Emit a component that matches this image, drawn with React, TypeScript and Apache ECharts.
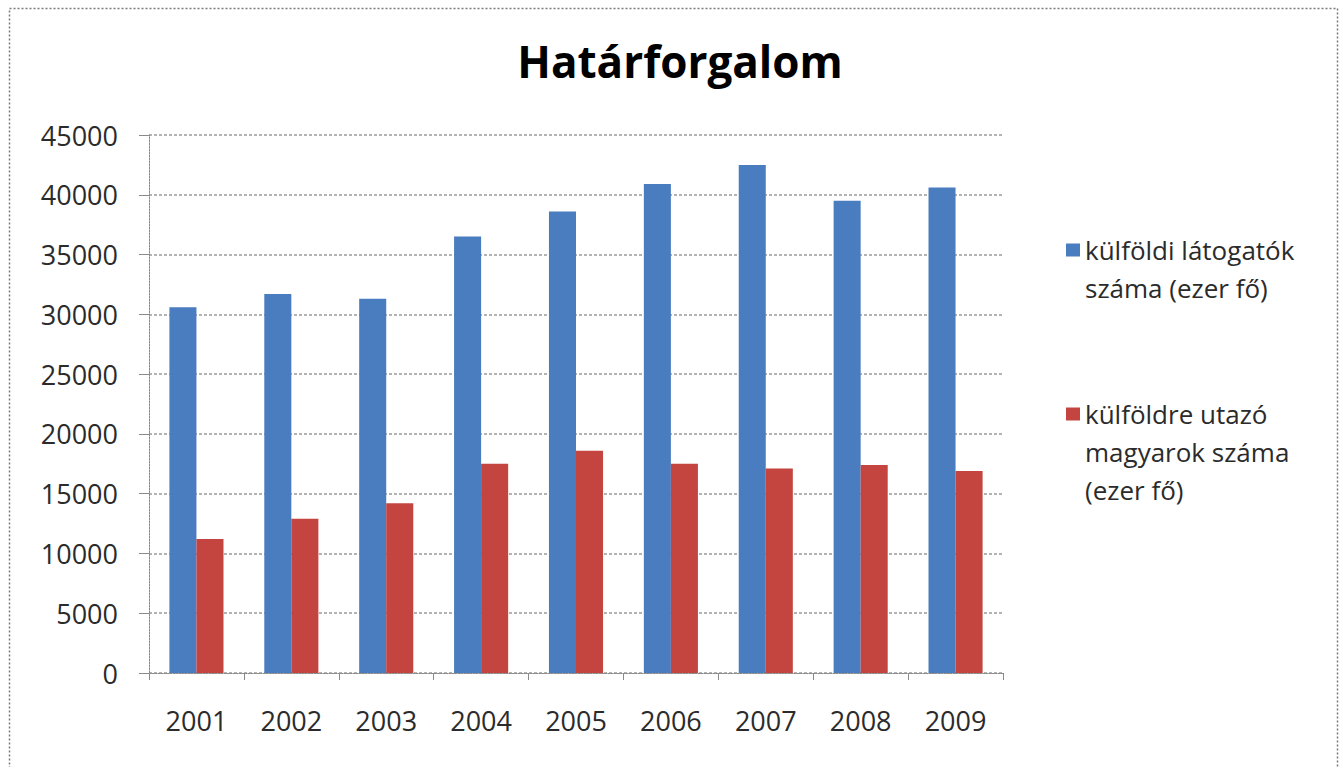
import React, { useEffect, useRef } from "react";
import * as echarts from "echarts";

const years = ["2001", "2002", "2003", "2004", "2005", "2006", "2007", "2008", "2009"];
const visitors = [30600, 31700, 31300, 36500, 38600, 40900, 42500, 39500, 40600];
const travellers = [11200, 12900, 14200, 17500, 18600, 17500, 17100, 17400, 16900];
const seriesNames = [
  "külföldi látogatók\nszáma (ezer fő)",
  "külföldre utazó\nmagyarok száma\n(ezer fő)",
];
const titleText = "Határforgalom";

const FONT = "'Open Sans', Lato, sans-serif";
const LH = 38;

export default function App() {
  const ref = useRef<HTMLDivElement>(null);
  useEffect(() => {
    if (!ref.current) return;
    const chart = echarts.init(ref.current, null, { renderer: "svg" });
    const legendBase = {
      orient: "vertical",
      left: 1061,
      itemWidth: 14,
      itemHeight: 13,
      icon: "rect",
      // pad with blank lines above so the first text line sits level with the icon
      formatter: (name: string) => "\n".repeat(name.split("\n").length - 1) + name,
      textStyle: { fontFamily: FONT, fontSize: 26, color: "#2b2b2b", lineHeight: LH },
    };
    chart.setOption({
      animation: false,
      backgroundColor: "#ffffff",
      title: {
        text: titleText,
        left: 675,
        textAlign: "center",
        top: 34,
        textStyle: { fontFamily: FONT, fontSize: 44, fontWeight: "bold", color: "#000" },
      },
      legend: [
        { ...legendBase, top: 188, data: [seriesNames[0]] },
        { ...legendBase, top: 314, data: [seriesNames[1]] },
      ],
      grid: { left: 149, right: 338, top: 135, bottom: 94, containLabel: false },
      xAxis: {
        type: "category",
        data: years,
        axisLine: { lineStyle: { color: "#8a8a8a", type: [2, 1] } },
        axisTick: { show: true, length: 7, lineStyle: { color: "#8a8a8a" } },
        axisLabel: { fontFamily: FONT, fontSize: 27, color: "#2b2b2b", margin: 34 },
      },
      yAxis: {
        type: "value",
        min: 0,
        max: 45000,
        interval: 5000,
        axisLine: { show: true, lineStyle: { color: "#8a8a8a", type: [2, 1] } },
        axisTick: { show: true, length: 10, lineStyle: { color: "#8a8a8a" } },
        axisLabel: {
          fontFamily: FONT,
          fontSize: 27,
          color: "#2b2b2b",
          margin: 31,
          formatter: (v: number) => String(v),
        },
        splitLine: { lineStyle: { color: "#9a9a9a", type: [3, 2], width: 1.5 } },
      },
      series: [
        {
          name: seriesNames[0],
          type: "bar",
          data: visitors,
          barGap: "0%",
          barCategoryGap: "43%",
          itemStyle: { color: "#4a7dc0" },
        },
        {
          name: seriesNames[1],
          type: "bar",
          data: travellers,
          itemStyle: { color: "#c4443f" },
        },
      ],
      graphic: [
        {
          type: "rect",
          shape: { x: 9.5, y: 8.5, width: 1328, height: 770 },
          style: { fill: "none", stroke: "#7a7a7a", lineWidth: 1.5, lineDash: [2, 2] },
          silent: true,
        },
      ],
    });
    return () => chart.dispose();
  }, []);
  return <div ref={ref} style={{ width: 1341, height: 767, position: "absolute", left: 0, top: 0 }} />;
}
